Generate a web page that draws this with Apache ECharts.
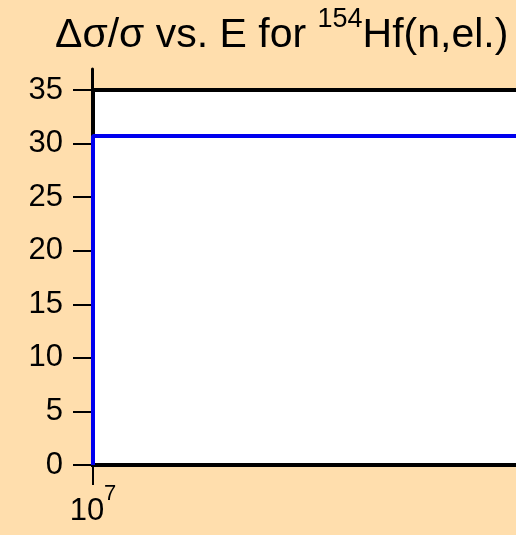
<!DOCTYPE html>
<html><head><meta charset="utf-8">
<script src="https://cdn.jsdelivr.net/npm/echarts@6/dist/echarts.min.js"></script>
<style>html,body{margin:0;padding:0;background:#FFDEAD;}#c{width:516px;height:535px;}</style>
</head><body><div id="c"></div>
<script>
const energies = [1e7, 1e7, 1e8];
const relUnc = [0, 30.7, 30.7];
const yTicks = [0, 5, 10, 15, 20, 25, 30, 35];

const chart = echarts.init(document.getElementById('c'));
chart.setOption({
  backgroundColor: '#FFDEAD',
  animation: false,
  title: {
    text: '{m|Δσ/σ vs. E for }{s|154}{m|Hf(n,el.)}',
    left: 50, top: 1,
    textStyle: {
      fontWeight: 'normal',
      rich: {
        m: {fontFamily: 'Liberation Sans', fontSize: 41, fontWeight: 'normal', color: '#000', verticalAlign: 'bottom', lineHeight: 50},
        s: {fontFamily: 'Liberation Sans', fontSize: 27, fontWeight: 'normal', color: '#000', verticalAlign: 'top', lineHeight: 50}
      }
    }
  },
  grid: [
    {left: 93, top: 90, bottom: 70, right: -400, outerBoundsMode: 'none', containLabel: false, show: true, backgroundColor: '#fff', borderColor: '#000', borderWidth: 4},
    {left: 92, top: 69, bottom: 70, right: -400, outerBoundsMode: 'none', containLabel: false, show: false}
  ],
  xAxis: [
    {type: 'log', logBase: 10, min: 1e7, max: 1e8, gridIndex: 0,
     axisLine: {show: false},
     axisTick: {show: true, inside: false, length: 20, lineStyle: {color: '#000', width: 2}},
     splitLine: {show: false},
     axisLabel: {margin: 31, formatter: v => '{b|10}{e|' + Math.round(Math.log10(v)) + '}',
       rich: {b: {fontFamily: 'Liberation Sans', fontSize: 31, color: '#000', verticalAlign: 'bottom', lineHeight: 31},
              e: {fontFamily: 'Liberation Sans', fontSize: 22, color: '#000', verticalAlign: 'bottom', lineHeight: 22, padding: [0, 0, 22, 0]}}}},
    {type: 'log', min: 1e7, max: 1e8, gridIndex: 1, show: false}
  ],
  yAxis: [
    {type: 'value', min: 0, max: 35, interval: 5, gridIndex: 0,
     axisLine: {show: true, lineStyle: {color: '#000', width: 3}},
     axisTick: {show: true, inside: false, length: 20, lineStyle: {color: '#000', width: 2}},
     splitLine: {show: false},
     axisLabel: {margin: 30, color: '#000', fontFamily: 'Liberation Sans', fontSize: 31,
       formatter: v => yTicks.includes(v) ? String(v) : ''}},
    {type: 'value', min: 0, max: 1, gridIndex: 1,
     axisLine: {show: true, lineStyle: {color: '#000', width: 3}},
     axisTick: {show: false}, axisLabel: {show: false}, splitLine: {show: false}}
  ],
  series: [{
    type: 'line', xAxisIndex: 0, yAxisIndex: 0,
    data: energies.map((e, i) => [e, relUnc[i]]),
    showSymbol: false, symbol: 'none',
    lineStyle: {color: '#0000ee', width: 4},
    z: 5
  }]
});
</script></body></html>
